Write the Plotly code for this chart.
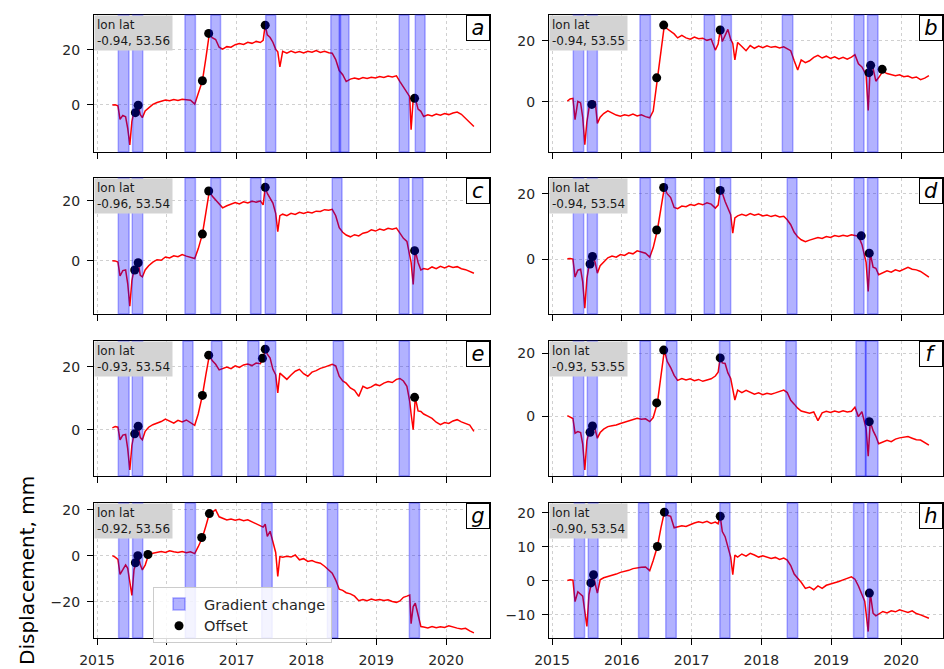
import plotly.graph_objects as go

# ---------------- data ----------------
T = [
    2015.22, 2015.26, 2015.30, 2015.33, 2015.37, 2015.41, 2015.44, 2015.47, 2015.50, 2015.53,
    2015.56, 2015.59, 2015.62, 2015.65, 2015.69, 2015.74, 2015.80, 2015.86, 2015.92, 2015.98,
    2016.04, 2016.10, 2016.16, 2016.22, 2016.28, 2016.34, 2016.40, 2016.45, 2016.51, 2016.56,
    2016.61, 2016.65, 2016.70, 2016.75, 2016.80, 2016.86, 2016.92, 2016.98, 2017.04, 2017.10,
    2017.16, 2017.22, 2017.28, 2017.34, 2017.38, 2017.41, 2017.44, 2017.48, 2017.52, 2017.56,
    2017.59, 2017.62, 2017.66, 2017.72, 2017.78, 2017.84, 2017.90, 2017.96, 2018.02, 2018.08,
    2018.14, 2018.20, 2018.26, 2018.32, 2018.37, 2018.42, 2018.47, 2018.52, 2018.57, 2018.63,
    2018.69, 2018.75, 2018.81, 2018.87, 2018.93, 2018.99, 2019.05, 2019.11, 2019.17, 2019.23,
    2019.29, 2019.34, 2019.39, 2019.44, 2019.48, 2019.50, 2019.53, 2019.56, 2019.60, 2019.64,
    2019.68, 2019.74, 2019.80, 2019.86, 2019.92, 2019.98, 2020.04, 2020.10, 2020.16, 2020.22,
    2020.28, 2020.34, 2020.40]

DISP_A = [0.0, 0.1, -0.3, -5.2, -3.8, -4.3, -8.5, -14.5, -6.0, -2.5,
          -2.8, -0.2, -3.5, -4.6, -2.2, -1.0, 0.2, 0.9, 1.3, 1.8,
          1.5, 2.0, 1.6, 2.1, 1.9, 1.7, 0.3, 4.0, 8.8, 17.0,
          26.0, 24.5, 23.8, 21.0, 20.3, 21.2, 21.0, 21.9, 22.3, 22.0,
          22.8, 22.4, 23.1, 22.7, 23.5, 29.0, 25.5, 24.5, 22.8, 20.2,
          19.3, 13.8, 19.5, 18.8, 19.6, 19.0, 19.4, 18.9, 19.5, 19.2,
          19.8, 19.1, 19.5, 19.0, 18.8, 16.5, 12.5, 11.0, 8.5, 9.4,
          9.8, 9.4, 10.0, 9.6, 10.1, 9.8, 10.3, 10.0, 10.5, 10.2,
          10.6, 8.5, 6.5, 4.8, 3.0, -9.0, 2.0, 2.4, -1.5, -2.3,
          -4.2, -3.6, -4.0, -3.3, -3.7, -3.1, -3.5, -2.9, -2.6, -3.4,
          -5.0, -6.5, -7.8]
DISP_B = [0.3, 1.0, 1.2, -5.8, 0.2, -0.3, -5.0, -14.0, -6.5, -2.0,
          -0.8, 0.3, 0.0, -7.0, -5.0, -3.8, -2.9, -3.6, -4.3, -4.7,
          -4.2, -4.5, -4.0, -4.6, -4.2, -4.8, -5.2, -3.0, 8.0, 17.0,
          25.2, 24.0, 23.2, 22.3, 21.0, 21.8, 21.0, 20.6, 21.3, 20.7,
          20.9, 20.2, 20.6, 17.0, 19.0, 23.6, 19.8, 22.0, 23.8, 20.5,
          19.2, 13.8, 19.5, 18.2, 16.8, 18.5, 17.6, 18.3, 17.8, 18.4,
          17.9, 18.2, 17.7, 18.1, 17.5, 16.8, 13.5, 10.5, 13.8, 12.9,
          13.5, 14.6, 15.3, 14.4, 15.0, 14.3, 14.8, 14.1, 14.6, 14.0,
          14.7, 15.5, 12.5, 11.5, 9.8, 9.0, -2.8, 11.8, 11.0, 6.8,
          8.0, 10.0, 9.3, 9.0, 8.6, 8.9, 8.3, 8.5, 7.9, 8.2,
          7.3, 7.8, 8.6]
DISP_C = [0.1, 0.0, -0.4, -5.0, -3.2, -3.0, -7.5, -15.0, -6.5, -3.0,
          -3.0, -0.6, -4.8, -5.3, -3.0, -1.6, -0.4, 0.4, 0.2, 1.3,
          1.0, 1.7, 1.4, 2.1, 1.6, 1.3, 0.8, 4.0, 8.9, 16.0,
          23.2, 21.5, 20.2, 18.6, 17.6, 18.3, 18.8, 19.4, 18.9, 19.6,
          19.2, 19.8, 19.5, 19.9, 18.6, 24.4, 22.4, 21.0, 19.2, 15.8,
          9.7, 15.0, 15.5, 15.0, 15.8, 15.4, 16.1, 15.7, 16.2, 15.9,
          16.5, 16.4, 17.0, 16.8, 17.1, 15.0, 11.0, 9.5, 8.6, 8.0,
          8.7, 8.3, 9.2, 9.5, 10.3, 9.9, 10.6, 10.2, 10.8, 10.5,
          10.9, 9.2, 7.5, 6.5, 2.0, -0.5, -7.8, 3.4, -0.5, -3.0,
          -2.5, -2.8, -2.0, -2.6, -1.8, -2.3, -1.7, -2.2, -1.9, -2.6,
          -2.9, -3.6, -4.1]
DISP_D = [0.1, 0.2, 0.0, -5.5, -3.4, -3.1, -7.0, -15.0, -6.0, -2.0,
          -1.5, 0.8, -1.2, -4.3, -2.0, -0.8, 0.4, 0.9, 0.6, 1.4,
          1.1, 1.9, 1.6, 2.5, 2.1, 1.8, 0.6, 3.5, 8.9, 15.5,
          21.9, 20.0, 18.8, 15.8, 15.4, 16.2, 16.0, 16.7, 16.4, 17.0,
          16.6, 17.2, 16.8, 15.6, 16.5, 21.0, 20.2, 17.6, 15.5, 13.6,
          7.9, 12.6, 13.2, 13.7, 13.3, 13.9, 13.4, 13.8, 13.2, 13.5,
          13.0, 13.4, 12.9, 13.1, 12.0, 10.5, 8.2, 6.8, 5.9, 5.3,
          5.8, 6.2, 6.6, 6.3, 6.9, 6.6, 7.2, 6.9, 7.3, 7.0,
          7.4, 7.2, 7.0, 4.5, 0.3, -1.0, -9.9, 1.8, -2.5, -2.8,
          -4.8, -4.2, -3.6, -4.0, -3.3, -3.7, -3.0, -2.5, -3.1, -3.3,
          -3.8, -4.6, -5.5]
DISP_E = [0.6, 1.0, 0.8, -3.2, -1.7, -1.5, -6.0, -12.8, -5.0, -1.5,
          -1.3, 1.1, -2.5, -3.2, -0.5, 0.8, 1.6, 2.1, 2.6, 3.4,
          2.8, 2.1, 3.0, 2.5, 3.1, 2.2, 1.4, 5.0, 10.9, 17.5,
          23.7, 22.0, 20.8, 19.0, 19.5, 19.9, 19.4, 20.3, 19.8, 20.6,
          20.9, 20.4, 21.2, 21.0, 22.7, 25.6, 24.0, 22.8, 19.2, 17.5,
          11.7, 18.0, 17.2, 16.0, 17.4, 18.6, 19.2, 17.8, 17.0, 18.3,
          18.8, 19.5, 19.9, 20.4, 20.8, 20.3, 17.0, 15.5, 14.8, 13.3,
          12.5, 10.6, 13.8, 13.1, 13.6, 14.4, 14.0, 14.8, 15.3, 15.0,
          16.0, 16.3, 15.5, 13.8, 9.0, 5.0, 0.0, 10.3, 6.0, 5.8,
          5.0, 4.3, 3.6, 2.4, 1.6, 2.3, 2.0, 2.8, 3.2, 2.5,
          2.0, 1.5, -0.5]
DISP_F = [0.1, -0.3, -0.8, -5.5, -5.0, -5.3, -9.0, -17.3, -8.0, -5.0,
          -5.2, -3.2, -4.5, -7.1, -5.3, -4.2, -3.4, -3.1, -2.9, -2.4,
          -2.0, -1.6, -1.2, -0.7, -1.0, -0.9, -1.8, -0.5, 4.2, 12.0,
          21.1, 17.5, 15.5, 13.0, 11.4, 12.0, 11.5, 11.9, 11.3, 11.7,
          11.1, 11.5, 11.9, 12.8, 14.0, 18.6, 17.0, 16.8, 13.8, 12.0,
          9.0, 5.1, 8.3, 7.5, 8.2, 7.6, 7.0, 7.4, 6.8, 7.3,
          7.0, 7.4, 7.9, 8.3, 7.5, 5.0, 3.8, 2.5, 1.6, 1.2,
          0.9, 1.3, -1.5, 1.0, 1.5, 1.1, 1.6, 1.2, 1.7, 1.3,
          1.5, 2.8, -0.2, 1.4, -3.0, -4.0, -12.9, -1.8, -4.7, -6.5,
          -8.9, -8.3, -7.8, -8.2, -7.4, -7.0, -6.8, -6.6, -7.1, -7.6,
          -7.7, -8.6, -9.3]
DISP_G = [0.1, -0.5, -1.5, -8.0, -6.0, -3.9, -5.4, -12.0, -17.2, -6.0,
          -3.0, 0.1, -3.9, -6.1, -4.0, 0.6, 1.2, 1.6, 1.9, 1.5,
          2.2, 1.8, 1.5, 1.9, 1.4, 1.8, 1.0, 4.0, 8.0, 13.0,
          18.4, 19.0, 20.0, 17.0, 16.2, 15.6, 16.0, 15.5, 15.9, 15.3,
          15.7, 14.8, 14.0, 13.2, 12.5, 13.8, 8.5, 10.7, 6.5, 1.5,
          -8.9, -0.3, -0.6, -0.2, -0.5, 0.4, -1.7, -1.2, -2.4, -2.0,
          -2.8, -3.2, -4.5, -6.0, -7.5, -10.5, -14.5, -15.0, -16.0, -16.5,
          -17.5, -19.5, -19.0, -19.5, -18.8, -19.3, -19.0, -19.4, -19.1, -19.8,
          -20.2, -19.6, -18.0, -17.5, -17.0, -29.5, -22.0, -20.6, -26.4, -30.7,
          -30.9, -31.3, -30.7, -31.2, -30.8, -31.1, -30.4, -31.0, -31.4, -31.8,
          -31.5, -32.6, -33.5]
DISP_H = [0.1, 0.3, 0.2, -6.1, -3.2, -3.8, -4.5, -9.0, -13.4, -4.0,
          -0.6, 1.8, -1.0, -3.6, 0.3, 0.9, 1.3, 1.6, 2.0, 2.5,
          2.7, 3.1, 3.6, 3.9, 4.0, 4.1, 3.0, 6.0, 10.1, 15.5,
          20.2, 19.3, 19.0, 15.6, 15.8, 16.2, 16.0, 16.6, 17.0, 17.4,
          17.1, 17.5, 16.9, 17.3, 16.8, 19.0, 14.5, 13.0, 10.1, 7.0,
          1.8, 7.6, 7.0, 7.9, 7.3, 8.1, 7.6, 7.0, 7.4, 7.1,
          6.6, 6.9, 6.3, 6.7, 6.1, 4.5, 2.0, 0.8, -0.4, -2.2,
          -1.8, -2.6, -1.5, -2.2, -1.3, -0.9, -0.6, -0.2, 0.3, 0.8,
          1.2, 0.5, -1.5, -4.0, -6.0, -9.5, -14.9, -3.6, -9.5, -10.3,
          -9.8, -9.0, -9.4, -8.8, -9.1, -8.5, -8.9, -9.3, -8.8, -9.6,
          -10.0, -10.5, -11.0]

OFF_A_T = [2015.55, 2015.59, 2016.51, 2016.60, 2017.41, 2019.55]
OFF_A_V = [-2.8, -0.1, 8.8, 26.0, 29.0, 2.4]
OFF_B_T = [2015.57, 2016.50, 2016.60, 2017.41, 2019.54, 2019.565, 2019.73]
OFF_B_V = [-0.8, 7.9, 25.2, 23.6, 9.6, 12.0, 10.7]
OFF_C_T = [2015.54, 2015.59, 2016.51, 2016.60, 2017.41, 2019.55]
OFF_C_V = [-3.0, -0.6, 8.9, 23.2, 24.4, 3.4]
OFF_D_T = [2015.545, 2015.58, 2016.50, 2016.60, 2017.41, 2019.43, 2019.545]
OFF_D_V = [-1.5, 0.8, 8.9, 21.9, 21.0, 7.1, 1.8]
OFF_E_T = [2015.54, 2015.59, 2016.51, 2016.60, 2017.37, 2017.41, 2019.55]
OFF_E_V = [-1.3, 1.1, 10.9, 23.7, 22.7, 25.6, 10.3]
OFF_F_T = [2015.545, 2015.58, 2016.50, 2016.60, 2017.41, 2019.545]
OFF_F_V = [-5.2, -3.2, 4.2, 21.1, 18.6, -1.8]
OFF_G_T = [2015.55, 2015.585, 2015.73, 2016.50, 2016.61]
OFF_G_V = [-3.0, 0.1, 0.6, 8.0, 18.4]
OFF_H_T = [2015.557, 2015.595, 2016.51, 2016.61, 2017.41, 2019.547]
OFF_H_V = [-0.6, 1.8, 10.1, 20.2, 19.0, -3.6]

BANDS_A = [(2015.305, 2015.458), (2015.51, 2015.655), (2016.26, 2016.41), (2016.63, 2016.77),
           (2017.417, 2017.56), (2018.35, 2018.49), (2018.47, 2018.61), (2019.33, 2019.47), (2019.56, 2019.70)]
BANDS_B = [(2015.305, 2015.454), (2015.506, 2015.65), (2016.26, 2016.41), (2017.18, 2017.33),
           (2017.43, 2017.57), (2018.30, 2018.45), (2019.33, 2019.47), (2019.52, 2019.67)]
BANDS_C = [(2015.305, 2015.46), (2015.505, 2015.655), (2016.26, 2016.41), (2016.63, 2016.77),
           (2017.20, 2017.35), (2017.41, 2017.56), (2018.37, 2018.51), (2019.33, 2019.47), (2019.52, 2019.67)]
BANDS_D = [(2015.305, 2015.454), (2015.506, 2015.65), (2016.26, 2016.41), (2016.62, 2016.77),
           (2017.18, 2017.33), (2017.41, 2017.56), (2018.37, 2018.51), (2019.33, 2019.47), (2019.52, 2019.67)]
BANDS_E = [(2015.305, 2015.46), (2015.505, 2015.655), (2016.23, 2016.375), (2016.64, 2016.79),
           (2017.16, 2017.32), (2017.41, 2017.56), (2018.385, 2018.53), (2019.33, 2019.475)]
BANDS_F = [(2015.305, 2015.454), (2015.506, 2015.65), (2016.26, 2016.41), (2016.64, 2016.79),
           (2017.40, 2017.55), (2018.35, 2018.50), (2019.355, 2019.50), (2019.49, 2019.67)]
BANDS_G = [(2015.31, 2015.455), (2015.51, 2015.655), (2016.265, 2016.41), (2017.36, 2017.51),
           (2018.30, 2018.45), (2019.475, 2019.62)]
BANDS_H = [(2015.32, 2015.467), (2015.52, 2015.66), (2016.24, 2016.385), (2016.63, 2016.78),
           (2017.405, 2017.55), (2018.37, 2018.52), (2019.32, 2019.47), (2019.52, 2019.67)]

PANEL_LETTERS = ["a", "b", "c", "d", "e", "f", "g", "h"]
LONLAT = ["-0.94, 53.56", "-0.94, 53.55", "-0.96, 53.54", "-0.94, 53.54",
          "-0.93, 53.54", "-0.93, 53.55", "-0.92, 53.56", "-0.90, 53.54"]
YEAR_TICKS = [2015, 2016, 2017, 2018, 2019, 2020]
YEAR_LABELS = ["2015", "2016", "2017", "2018", "2019", "2020"]

SERIES = [DISP_A, DISP_B, DISP_C, DISP_D, DISP_E, DISP_F, DISP_G, DISP_H]
OFFSETS = [(OFF_A_T, OFF_A_V), (OFF_B_T, OFF_B_V), (OFF_C_T, OFF_C_V), (OFF_D_T, OFF_D_V),
           (OFF_E_T, OFF_E_V), (OFF_F_T, OFF_F_V), (OFF_G_T, OFF_G_V), (OFF_H_T, OFF_H_V)]
BANDS = [BANDS_A, BANDS_B, BANDS_C, BANDS_D, BANDS_E, BANDS_F, BANDS_G, BANDS_H]

# ---------------- layout geometry / style ----------------
W, H = 944, 669
COLS = [(94, 490), (549, 943)]
ROWS = [(15, 152), (178, 314), (341, 476), (503, 638)]
YRANGES = [(-17.1, 32.7), (-16.4, 28.5), (-17.6, 27.5), (-16.8, 24.8),
           (-14.7, 28.2), (-19.2, 24.0), (-35.7, 23.0), (-16.8, 22.9)]
DTICKS = [20, 20, 20, 20, 20, 20, 20, 10]
PX_PER_YEAR = 69.8
X0 = 2014.957
FONT = "DejaVu Sans"
TXT = "#262626"
BAND_FILL = "rgba(0,0,255,0.3)"
BAND_EDGE = "rgba(0,0,255,0.3)"

fig = go.Figure()
layout = dict(
    width=W, height=H, autosize=False,
    margin=dict(l=0, r=0, t=0, b=0, pad=0, autoexpand=False),
    paper_bgcolor="white", plot_bgcolor="white",
    font=dict(family=FONT, color=TXT, size=14),
    showlegend=True,
    legend=dict(x=153 / W, y=1 - 587 / H, xanchor="left", yanchor="top",
                bgcolor="rgba(255,255,255,0.85)", bordercolor="#cccccc", borderwidth=1,
                font=dict(size=14.5, family=FONT, color=TXT), itemwidth=40,
                tracegroupgap=2),
)

shapes = []
annotations = []
for i in range(8):
    n = i + 1
    xa = "x" if n == 1 else f"x{n}"
    ya = "y" if n == 1 else f"y{n}"
    r, c = divmod(i, 2)
    cx0, cx1 = COLS[c]
    ry0, ry1 = ROWS[r]
    xmax = X0 + (cx1 - cx0) / PX_PER_YEAR

    fig.add_trace(go.Scatter(x=T, y=SERIES[i], mode="lines",
                             line=dict(color="red", width=1.5),
                             xaxis=xa, yaxis=ya, showlegend=False, hoverinfo="skip"))
    ot, ov = OFFSETS[i]
    fig.add_trace(go.Scatter(x=ot, y=ov, mode="markers", name="Offset",
                             marker=dict(color="black", size=9), legendrank=2,
                             xaxis=xa, yaxis=ya, showlegend=(n == 7)))

    for k, (b0, b1) in enumerate(BANDS[i]):
        shp = dict(type="rect", xref=xa, yref=f"{ya} domain", x0=b0, x1=b1, y0=0, y1=1,
                   fillcolor=BAND_FILL, line=dict(color=BAND_EDGE, width=1.5), layer="above")
        if n == 7 and k == 0:
            shp.update(showlegend=True, name="Gradient change", legendrank=1)
        shapes.append(shp)

    common = dict(showline=True, linecolor="black", linewidth=1.3, mirror=True,
                  ticks="outside", ticklen=6, tickwidth=1.3, tickcolor="black",
                  showgrid=True, gridcolor="#d0d0d0", griddash="dot", gridwidth=0.8,
                  zeroline=False, automargin=False,
                  tickfont=dict(size=14, color=TXT, family=FONT))
    layout[f"xaxis{'' if n == 1 else n}"] = dict(
        common, domain=[cx0 / W, cx1 / W], range=[X0, xmax], anchor=ya,
        tickmode="array", tickvals=YEAR_TICKS, ticktext=YEAR_LABELS,
        showticklabels=(r == 3), ticklabelstandoff=3)
    layout[f"yaxis{'' if n == 1 else n}"] = dict(
        common, domain=[1 - ry1 / H, 1 - ry0 / H], range=list(YRANGES[i]), anchor=xa,
        tick0=0, dtick=DTICKS[i], ticklabelstandoff=4)

    annotations.append(dict(xref=f"{xa} domain", yref=f"{ya} domain", x=0, y=1,
                            xanchor="left", yanchor="top", showarrow=False, align="left",
                            text=f"lon lat<br>{LONLAT[i]}",
                            font=dict(size=12, family=FONT, color="#1a1a1a"),
                            bgcolor="#d3d3d3", borderpad=2))
    annotations.append(dict(xref=f"{xa} domain", yref=f"{ya} domain", x=1, y=1,
                            xanchor="right", yanchor="top", showarrow=False,
                            text=f"<i>{PANEL_LETTERS[i]}</i>",
                            font=dict(size=21, family=FONT, color="black"),
                            bgcolor="white", bordercolor="black", borderwidth=1,
                            width=22, height=24, borderpad=0))

annotations.append(dict(xref="paper", yref="paper", x=27 / W, y=1 - 571 / H,
                        xanchor="center", yanchor="middle", showarrow=False,
                        text="Displacement, mm", textangle=-90,
                        font=dict(size=20, family=FONT, color="black")))

layout["shapes"] = shapes
layout["annotations"] = annotations
fig.update_layout(**layout)
fig.write_html("out.html")
